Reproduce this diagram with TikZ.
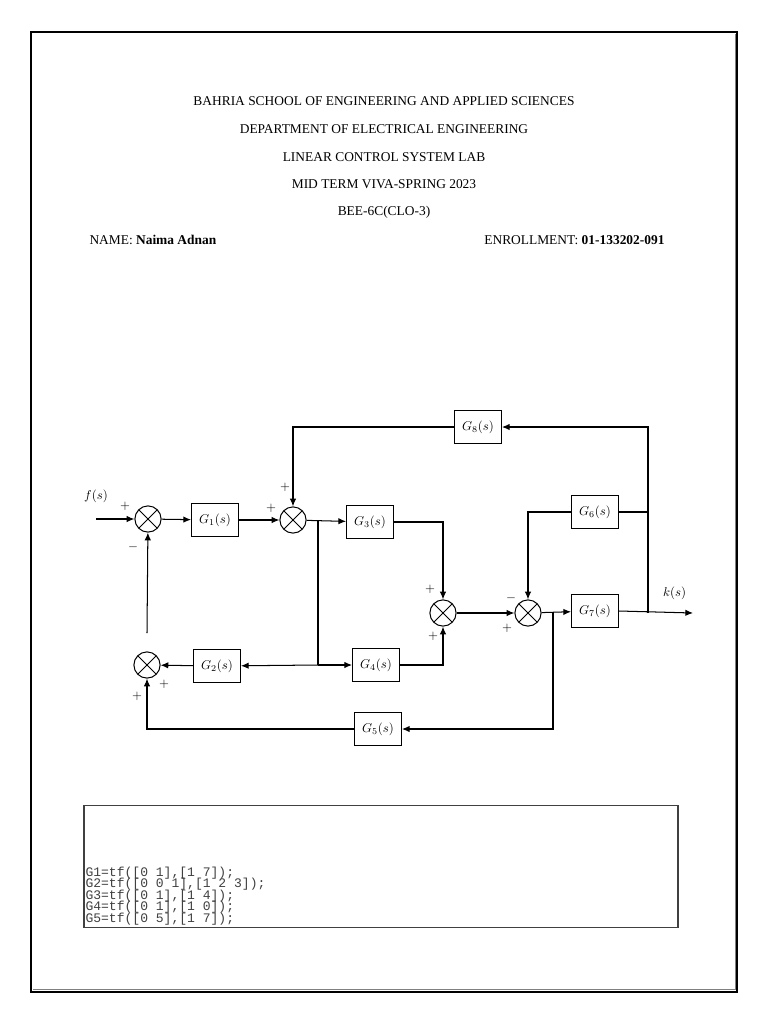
\documentclass[tikz,border=0pt]{standalone}
\usepackage{fontspec}
\setmainfont{Liberation Serif}
\setmonofont{Liberation Mono}
\usetikzlibrary{arrows.meta}

\begin{document}
\begin{tikzpicture}[x=0.0275cm, y=-0.0275cm, line width=0.8pt, >={Latex[length=6pt,width=5pt]},
        block/.style={draw, minimum width=1.29cm, minimum height=0.9cm, inner sep=0pt},
        sum/.style={draw, circle, minimum size=0.72cm, inner sep=0pt,
            path picture={\draw (path picture bounding box.north west) -- (path picture bounding box.south east)
                (path picture bounding box.north east) -- (path picture bounding box.south west);}},
        sign/.style={inner sep=0pt, font=\normalsize},
        head/.style={font=\fontsize{10.5}{12}\selectfont}]
        \useasboundingbox (0, 0) rectangle (768, 1024);
        % page frame
        \draw [line width=1.2pt] (31, 32) rectangle (737, 992);
        \draw [line width=0.5pt, gray] (735, 34) -- (735, 989.5) -- (33, 989.5);
        % header
        \node [head] (h1) at (384, 101) {BAHRIA SCHOOL OF ENGINEERING AND APPLIED SCIENCES};
        \node [head] (h2) at (384, 129) {DEPARTMENT OF ELECTRICAL ENGINEERING};
        \node [head] (h3) at (384, 157) {LINEAR CONTROL SYSTEM LAB};
        \node [head] (h4) at (384, 184) {MID TERM VIVA-SPRING 2023};
        \node [head] (h5) at (384, 212) {BEE-6C(CLO-3)};
        \node [head, anchor=west, inner sep=0pt] (name) at (89, 240) {NAME: \textbf{Naima Adnan}};
        \node [head, anchor=east, inner sep=0pt] (enrol) at (665, 240) {ENROLLMENT: \textbf{01-133202-091}};
        % block diagram
        \node [sum] (s1) at (148, 519) {};
        \node [block] (g1) at (215, 520) {$G_1(s)$};
        \node [sum] (s2) at (293, 520) {};
        \node [block] (g3) at (370, 522) {$G_3(s)$};
        \node [block] (g8) at (478, 427) {$G_8(s)$};
        \node [sum] (s3) at (443, 613) {};
        \node [sum] (s4) at (528, 613) {};
        \node [block] (g7) at (595, 611) {$G_7(s)$};
        \node [block] (g6) at (595, 512) {$G_6(s)$};
        \node [block] (g4) at (376, 665) {$G_4(s)$};
        \node [block] (g2) at (217, 666) {$G_2(s)$};
        \node [sum] (s5) at (147, 665) {};
        \node [block] (g5) at (378, 729) {$G_5(s)$};
        \coordinate (in) at (96, 519);
        \coordinate (out) at (693, 613);
        \coordinate (b1) at (318, 520);
        \coordinate (b2) at (318, 665);
        \coordinate (t1) at (648, 613);
        \coordinate (t2) at (553, 613);
        \coordinate (up) at (147, 633);
        \draw [->] (in) -- (s1) node [pos=0, above=9pt] (f) {$f(s)$};
        \draw [->] (s1) -- (g1);
        \draw [->] (g1) -- (s2);
        \draw [->] (s2) -- (g3);
        \draw (b1) -- (b2);
        \draw [->] (b2) -- (g2);
        \draw [->] (b2) -- (g4);
        \draw [->] (g2) -- (s5);
        \draw [->] (up) -- (s1);
        \draw [->] (g3.east) -| (s3.north);
        \draw [->] (g4.east) -| (s3.south);
        \draw [->] (s3) -- (s4);
        \draw [->] (s4) -- (g7);
        \draw [->] (g7.east) -- (out) node [pos=0.75, above=6pt] (k) {$k(s)$};
        \draw [->] (t1) |- (g8.east);
        \draw (g6.east) -- (g6.east -| t1);
        \draw [->] (g6.west) -| (s4.north);
        \draw [->] (g8.west) -| (s2.north);
        \draw [->] (t2) |- (g5.east);
        \draw [->] (g5.west) -| (s5.south);
        % signs
        \node [sign] (p1) at (125, 506) {$+$};
        \node [sign] (m1) at (133, 547) {$-$};
        \node [sign] (p2) at (285, 487) {$+$};
        \node [sign] (p3) at (271, 508) {$+$};
        \node [sign] (p4) at (430, 589) {$+$};
        \node [sign] (p5) at (433, 636) {$+$};
        \node [sign] (m2) at (511, 598) {$-$};
        \node [sign] (p6) at (507, 628) {$+$};
        \node [sign] (p7) at (164, 684) {$+$};
        \node [sign] (p8) at (137, 696) {$+$};
        % matlab code box
        \draw [darkgray] (84, 805) rectangle (678, 927);
        \node [anchor=base west, inner sep=0pt, align=left, darkgray,
            font={\fontsize{10.2}{8.9}\ttfamily\lineskiplimit=-6pt\relax}] (code) at (85, 922)
            {G1=tf([0 1],[1 7]);\\G2=tf([0 0 1],[1 2 3]);\\G3=tf([0 1],[1 4]);\\G4=tf([0 1],[1 0]);\\G5=tf([0 5],[1 7]);};
    \end{tikzpicture}
\end{document}
